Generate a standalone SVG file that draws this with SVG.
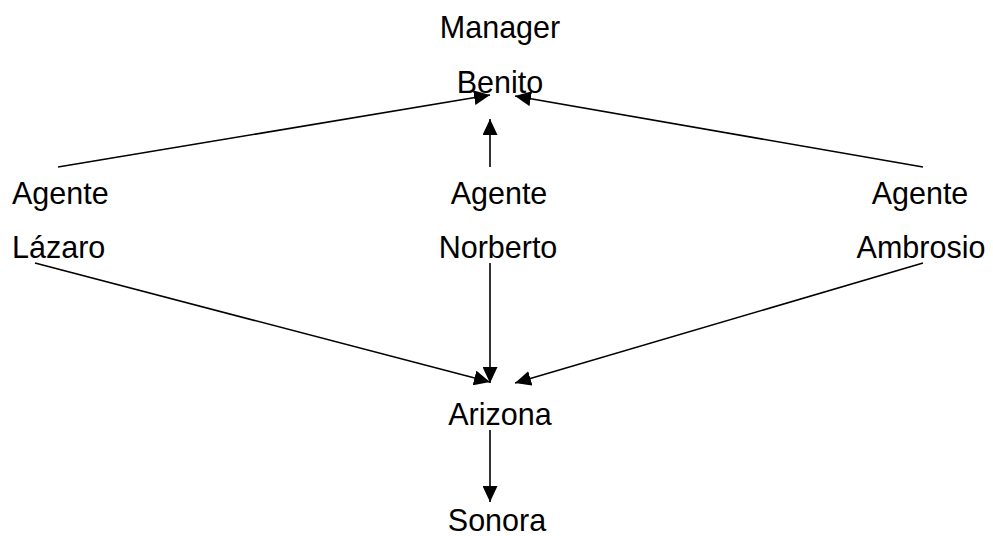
<svg xmlns="http://www.w3.org/2000/svg" width="993" height="536" viewBox="0 0 993 536">
<style>
text{font-family:"Liberation Sans",Arial,sans-serif;font-size:30.5px;fill:#000}
.c{text-anchor:middle}
.l{stroke:#000;stroke-width:1.6;fill:none;marker-end:url(#ah)}
</style>
<defs>
<marker id="ah" viewBox="0 0 16 15" refX="16" refY="7.5" markerWidth="16" markerHeight="15" orient="auto" markerUnits="userSpaceOnUse">
<path d="M0,0 L16,7.5 L0,15 z" fill="#000"/>
</marker>
</defs>
<rect width="993" height="536" fill="#fff"/>
<g id="connectors">
<line class="l" x1="58" y1="167" x2="490" y2="95"/>
<line class="l" x1="490" y1="167" x2="490" y2="119"/>
<line class="l" x1="923" y1="167" x2="515" y2="96"/>
<line class="l" x1="35" y1="263" x2="490" y2="382"/>
<line class="l" x1="490" y1="263" x2="490" y2="383"/>
<line class="l" x1="923" y1="263" x2="515" y2="383"/>
<line class="l" x1="490" y1="430" x2="490" y2="502"/>
</g>
<g id="benito"><text class="c" x="500" y="38">Manager</text><text class="c" x="500" y="93">Benito</text></g>
<g id="lazaro"><text x="12" y="204">Agente</text><text x="12" y="258">Lázaro</text></g>
<g id="norberto"><text class="c" x="499" y="204">Agente</text><text class="c" x="498" y="258">Norberto</text></g>
<g id="ambrosio"><text class="c" x="920" y="204">Agente</text><text class="c" x="921" y="258">Ambrosio</text></g>
<g id="arizona"><text class="c" x="500" y="425">Arizona</text></g>
<g id="sonora"><text class="c" x="497" y="531">Sonora</text></g>
</svg>
